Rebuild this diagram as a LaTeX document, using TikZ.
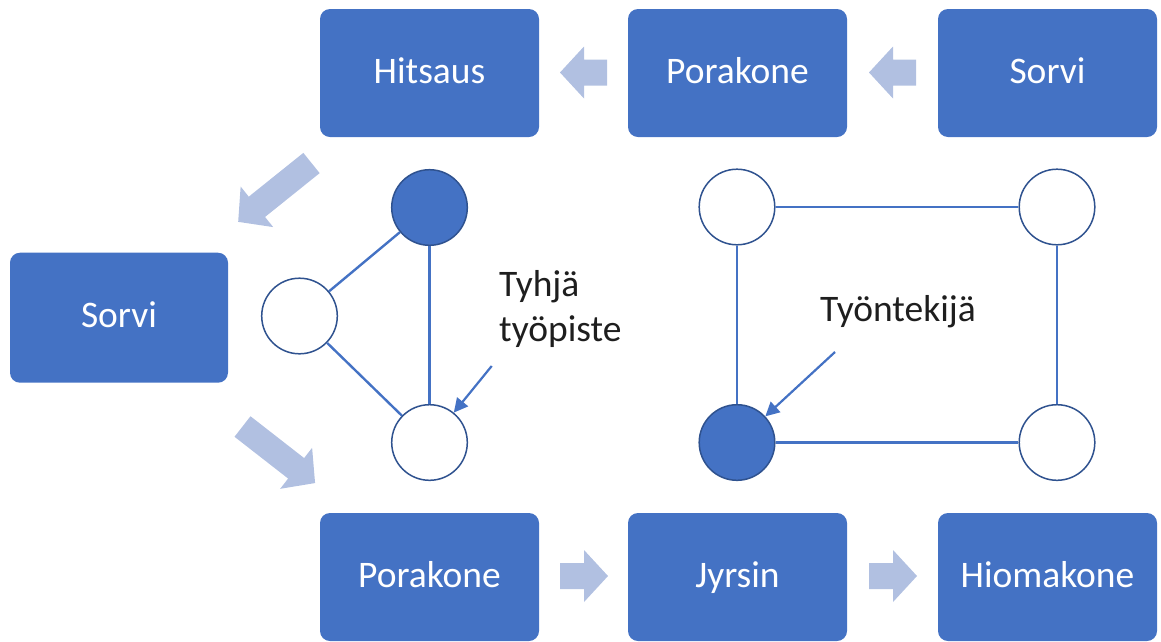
\documentclass[tikz,border=0pt]{standalone}
\usepackage{fontspec}
\setmainfont{Carlito}
\usetikzlibrary{arrows.meta}
\definecolor{boxblue}{HTML}{4472C4}
\definecolor{ringblue}{HTML}{2F528F}
\definecolor{flowfill}{HTML}{B1C0E1}
\definecolor{labeltext}{HTML}{1E1E1E}
\tikzset{
  stationbox/.style={rounded corners=10pt, fill=boxblue, text=white,
    minimum width=219pt, minimum height=128pt, inner sep=0pt,
    text height=28pt, text depth=7.6pt,
    font=\fontsize{37.5}{44}\selectfont},
  emptyspot/.style={circle, minimum size=75.6pt, inner sep=0pt,
    draw=ringblue, line width=1.5pt, fill=white},
  workerspot/.style={emptyspot, fill=boxblue},
  link/.style={draw=boxblue, line width=2.4pt},
  callout/.style={draw=boxblue, line width=2.2pt,
    -{Triangle[length=14pt,width=14pt]}},
  lbl/.style={text=labeltext, inner sep=0pt, align=left,
    font=\fontsize{37.5}{45}\selectfont},
  pics/flowarrow/.style={code={
    \fill[flowfill] (0,-13) -- ({#1-24},-13) -- ({#1-24},-26) -- (#1,0)
      -- ({#1-24},26) -- ({#1-24},13) -- (0,13) -- cycle;}}
}
\begin{document}
\begin{tikzpicture}[x=1pt, y=-1pt]
\useasboundingbox (0,0) rectangle (1161,641);

% work stations
\node[stationbox] (hit)    at (429.5,73)  {Hitsaus};
\node[stationbox] (pora1)  at (737.5,73)  {Porakone};
\node[stationbox] (sorvi1) at (1047.5,73) {Sorvi};
\node[stationbox, minimum width=218pt, minimum height=130pt] (sorvi2) at (119,317.7) {Sorvi};
\node[stationbox] (pora2)  at (429.5,577) {Porakone};
\node[stationbox] (jyr)    at (737.5,577) {Jyrsin};
\node[stationbox] (hio)    at (1047.5,577) {Hiomakone};

% material flow
\pic[rotate=180] at (607,72.5) {flowarrow=47};
\pic[rotate=180] at (916,72.5) {flowarrow=47};
\pic[rotate=218.75] at (311.5,163) {flowarrow=94};
\pic[rotate=-37.93] at (242.5,426.5) {flowarrow=92};
\pic at (560,576) {flowarrow=48};
\pic at (869,576) {flowarrow=48};

% triangle cell
\node[workerspot] (t1) at (429.5,207.5) {};
\node[emptyspot]  (t2) at (299.5,316) {};
\node[emptyspot]  (t3) at (429.5,442.5) {};
\draw[link] (t1) -- (t2);
\draw[link] (t1) -- (t3);
\draw[link] (t2) -- (t3);

% rectangular cell
\node[emptyspot]  (r1) at (737,207) {};
\node[emptyspot]  (r2) at (1057,207) {};
\node[workerspot] (r3) at (737,442.5) {};
\node[emptyspot]  (r4) at (1057,442.5) {};
\draw[link] (r1) -- (r2);
\draw[link] (r2) -- (r4);
\draw[link] (r4) -- (r3);
\draw[link] (r3) -- (r1);

% labels (base anchor sits on the last line)
\node[lbl, anchor=base west] (tyhja) at (499,341.7) {Tyhjä\\työpiste};
\node[lbl, anchor=base west] (tyont) at (820,321.7) {Työntekijä};
\coordinate (tyhjaend) at (491.7,366);
\coordinate (tyontend) at (835,352);
\draw[callout] (tyhjaend) -- (t3);
\draw[callout] (tyontend) -- (r3);
\end{tikzpicture}
\end{document}
